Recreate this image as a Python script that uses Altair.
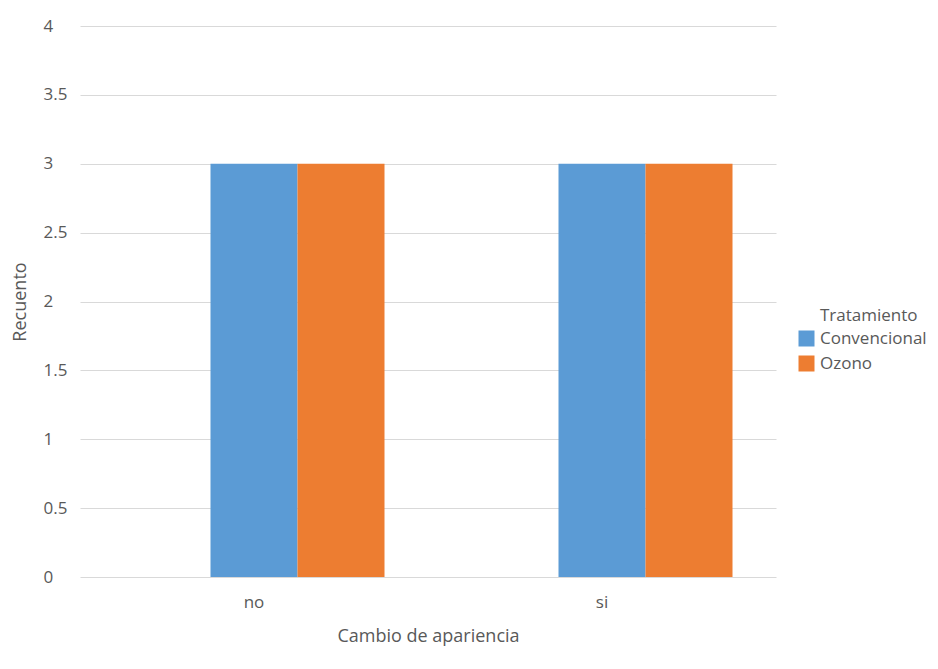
import altair as alt
import pandas as pd

categories = ["no", "no", "si", "si"]
treatments = ["Convencional", "Ozono", "Convencional", "Ozono"]
counts = [3, 3, 3, 3]
y_ticks = [0, 0.5, 1, 1.5, 2, 2.5, 3, 3.5, 4]
legend_title = ["Tratamiento"]

df = pd.DataFrame({"Cambio": categories, "Tratamiento": treatments, "Recuento": counts})

FONT = "Open Sans"
TXT = "#595959"
W, H = 696, 551

bars = alt.Chart(df).mark_bar().encode(
    x=alt.X("Cambio:N", title="Cambio de apariencia",
            scale=alt.Scale(paddingInner=0.5, paddingOuter=0.25),
            axis=alt.Axis(labelAngle=0, ticks=False, domain=False, labelPadding=17,
                          titlePadding=17, labelFontSize=17, titleFontSize=18)),
    xOffset=alt.XOffset("Tratamiento:N",
                        scale=alt.Scale(range=[43.5, 217.5], paddingInner=0, paddingOuter=0)),
    y=alt.Y("Recuento:Q", title="Recuento",
            scale=alt.Scale(domain=[0, 4]),
            axis=alt.Axis(values=y_ticks, format="~g", ticks=False, domain=False,
                          labelAlign="left", labelPadding=37, labelFontSize=17,
                          titleFontSize=18, titleX=-60, titleY=H / 2,
                          titleAlign="center", titleBaseline="middle", titleAngle=270,
                          gridColor="#d9d9d9", labelFlush=False)),
    color=alt.Color("Tratamiento:N",
                    scale=alt.Scale(domain=["Convencional", "Ozono"], range=["#5B9BD5", "#ED7D31"]),
                    legend=alt.Legend(title=None, orient="none", legendX=718, legendY=304,
                                      symbolType="square", symbolSize=256, symbolStrokeWidth=0,
                                      labelFontSize=17, labelOffset=5, rowPadding=7, padding=0)),
)

title_df = pd.DataFrame({"t": legend_title})
leg_title = alt.Chart(title_df).mark_text(
    align="left", baseline="middle", fontSize=17, font=FONT, color=TXT
).encode(text="t:N", x=alt.value(740), y=alt.value(290))

chart = alt.layer(bars, leg_title).properties(
    width=W, height=H,
    autosize=alt.AutoSizeParams(type="none"),
    padding={"left": 72, "top": 18, "right": 150, "bottom": 80},
).configure_view(stroke=None).configure_axis(
    labelFont=FONT, titleFont=FONT, labelColor=TXT, titleColor=TXT, titleFontWeight="normal"
).configure_legend(
    labelFont=FONT, titleFont=FONT, labelColor=TXT, titleColor=TXT
)

chart.save("out.html", embed_options={"renderer": "svg", "actions": False})
